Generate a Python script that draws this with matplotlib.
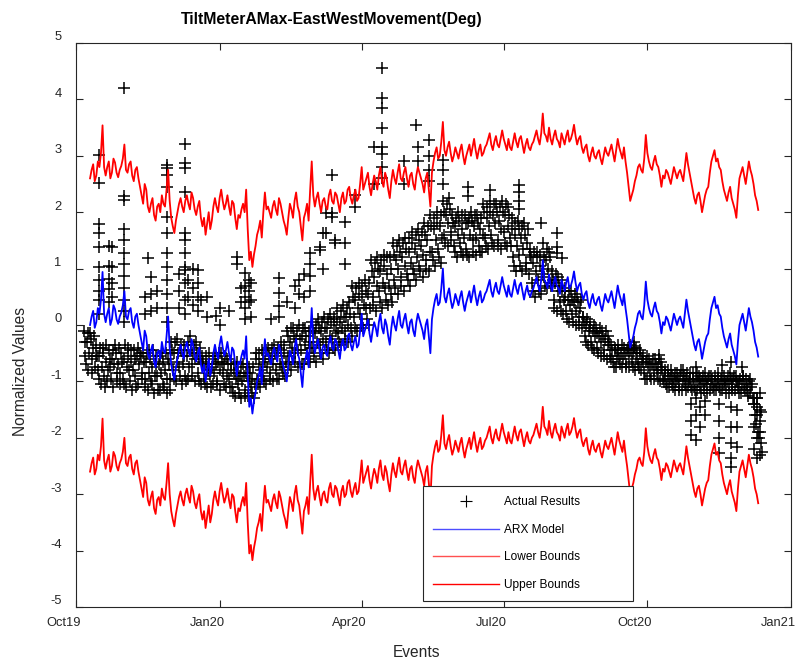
import numpy as np
import pandas as pd
import matplotlib
matplotlib.use('Agg')
import matplotlib.pyplot as plt
import matplotlib.transforms as mtransforms
from matplotlib.lines import Line2D

plt.rcParams['font.family'] = ['Liberation Sans', 'DejaVu Sans']

# --- data (days counted from 2019-10-01) ---
start_date = pd.Timestamp('2019-10-01')

# ARX model, one value per day starting at day 9
arx_first_day = 9
arx = [
    0.0, 0.15, 0.25, -0.05, 0.05, 0.3, 0.2, 0.45,
    0.94, 0.2,
    0.05, 0.2, 0.3, 0.0, 0.1, 0.35, 0.28, 0.1, 0.02, 0.15, 0.22, 0.35,
    0.6, 0.15,
    0.1, 0.25, 0.3, 0.05, -0.05, 0.15, 0.2, 0.0,
    -0.15, -0.3, -0.45, -0.1, -0.2, -0.5,
    -0.6, -0.45, -0.35, -0.65, -0.75, -0.5, -0.45, -0.6,
    -0.3, -0.45, -0.5, -0.2, 0.15, -0.4,
    -0.7, -0.85, -0.97, -0.75, -0.6, -0.45,
    -0.35, -0.5, -0.6, -0.4, -0.3, -0.45, -0.55, -0.25, -0.35, -0.55, -0.65, -0.5, -0.4, -0.7,
    -0.85, -0.7, -1.0, -0.8, -0.6, -0.9, -0.75, -0.5,
    -0.35, -0.5, -0.6, -0.35, -0.2, -0.4, -0.55, -0.45, -0.3, -0.5, -0.65, -0.4, -0.45, -0.7,
    -0.9, -0.65, -0.7, -0.55, -0.45, -0.6,
    -0.2, -0.9,
    -1.45, -1.3, -1.57, -1.35, -1.2, -1.0,
    -0.9, -0.75, -1.05, -0.6, -0.25, -0.55,
    -0.5, -0.6, -0.7, -0.5, -0.4, -0.55, -0.65, -0.35, -0.45, -0.6, -0.75, -0.85,
    -1.0, -0.7,
    -0.45, -0.55, -0.7, -0.4, -0.25, -0.5, -0.6, -0.85,
    -1.1, -0.7,
    -0.6, -0.45, -0.75, -0.2,
    0.3, -0.3,
    -0.5, -0.35, -0.25, -0.45, -0.6, -0.4, -0.35, -0.5, -0.55, -0.3, -0.2, -0.4, -0.45, -0.25, -0.3,
    -0.45, -0.6, -0.35, -0.25, -0.45, -0.4, -0.2, -0.15, -0.35, -0.45, -0.3, -0.2, -0.4, -0.35, -0.1,
    0.2, -0.2,
    -0.1, 0.0, 0.1, -0.15, -0.3, -0.1, 0.05, -0.05, -0.2, 0.05, 0.2, -0.05,
    -0.15, 0.1, 0.0, -0.2, -0.35, -0.05, 0.15, 0.0, -0.1, 0.1, 0.25, 0.0,
    -0.05, 0.1, 0.2, 0.0, -0.15, 0.05, 0.1, -0.1, -0.2, 0.05, 0.2, 0.1, 0.0, -0.1, -0.25, 0.0, 0.1, -0.2,
    -0.5, 0.1,
    0.3, 0.45, 0.55, 0.35, 0.4, 0.65,
    1.0, 0.5,
    0.4, 0.55, 0.65, 0.45, 0.3, 0.4, 0.55, 0.45, 0.35, 0.5, 0.6, 0.4, 0.25,
    0.4, 0.5, 0.6, 0.4, 0.55, 0.7, 0.5, 0.35, 0.5, 0.6, 0.4, 0.45, 0.55,
    0.6, 0.7, 0.8, 0.6, 0.5, 0.65, 0.75, 0.6, 0.55, 0.7, 0.85, 0.7, 0.6, 0.5, 0.7, 0.55,
    0.5, 0.65, 0.8, 0.65, 0.55, 0.7, 0.75, 0.6, 0.45, 0.6, 0.7, 0.55, 0.5, 0.6, 0.65, 0.75,
    0.85, 0.7, 0.6, 0.8, 1.15, 0.8,
    0.75, 0.65, 0.9, 0.7, 0.6, 0.75, 0.85, 0.7, 0.65, 0.55, 0.8, 0.7,
    0.6, 0.75, 0.85, 0.65, 0.7, 0.8, 0.95, 0.75, 0.6, 0.7, 0.75, 0.55,
    0.45, 0.55, 0.6, 0.4, 0.3, 0.45, 0.55, 0.4, 0.35, 0.45, 0.5, 0.35, 0.25, 0.4,
    0.55, 0.45, 0.4, 0.5, 0.6, 0.45, 0.3, 0.5, 0.7, 0.55, 0.45, 0.35, 0.55, 0.3,
    0.1, -0.15, -0.4, -0.3, -0.2, -0.05, 0.05, 0.2,
    0.25, 0.15, 0.1, 0.35, 0.77, 0.45, 0.3, 0.2, 0.15, 0.3, 0.4, 0.25, 0.2, 0.05,
    -0.15, 0.05, 0.0, 0.15,
    0.1, 0.0, -0.1, 0.05, 0.2, 0.1, 0.0, 0.1, 0.15, 0.05, -0.05, 0.2, 0.45, 0.25, 0.1, -0.05,
    -0.2, -0.35, -0.45, -0.3, -0.25, -0.4, -0.6, -0.45, -0.3, -0.2, -0.15, 0.1,
    0.3, 0.4, 0.5, 0.3, 0.35, 0.2, 0.15, -0.05,
    -0.2, -0.3, -0.4, -0.25, -0.15, -0.35, -0.45, -0.55, -0.7, -0.3,
    0.0, 0.1, 0.2, 0.05, -0.1, 0.1, 0.3, 0.15, 0.05, -0.1,
    -0.3, -0.4, -0.56,
]
band_half_width = 2.6  # distance of the red bounds from the ARX line

# actual results, main cloud: readings at whole days starting at day 5
actual_first_day = 5
actual = [
    -0.1, -0.55, -0.3, -0.8, -0.15, -0.6, -0.4, -0.75,
    -0.35, -0.8, -0.55, -1.05, -0.4, -0.9, -0.65, -1.0, -0.45, -0.75, -0.6, -1.1, -0.35, -0.85, -0.7, -1.05,
    -0.5, -0.95, -0.6, -1.1, -0.4, -0.8, -0.65, -1.15, -0.45, -0.9, -0.55, -1.05, -0.5, -0.85,
    -0.5, -0.95, -0.65, -1.15, -0.45, -1.0, -0.75, -1.2, -0.55, -0.9, -0.7, -1.15, -0.5, -1.05, -0.8, -1.2, -0.6, -0.95,
    -0.3, -0.8, -0.5, -1.0, -0.25, -0.75, -0.45, -1.05, -0.35, -0.9, -0.55, -0.95, -0.2, -0.7, -0.5, -1.0, -0.3, -0.85, -0.6, -1.05,
    -0.55, -0.95, -0.7, -1.1, -0.5, -0.9, -0.75, -1.05, -0.55, -1.0, -0.65, -1.15, -0.5, -0.85, -0.7, -1.1, -0.6, -0.95,
    -0.7, -1.1, -0.85, -1.25, -0.65, -1.05, -0.9, -1.3, -0.7, -1.15, -0.85, -1.25, -0.75, -1.1, -0.95, -1.3,
    -0.5, -0.95, -0.7, -1.1, -0.45, -0.9, -0.65, -1.05, -0.4, -0.85, -0.6, -1.0, -0.35, -0.8, -0.55, -0.95, -0.3, -0.75, -0.5, -0.9,
    -0.1, -0.55, -0.3, -0.8, -0.05, -0.5, -0.25, -0.75, 0.0, -0.45, -0.2, -0.7, -0.05, -0.5, -0.3, -0.65,
    0.05, -0.4, -0.15, -0.65, 0.1, -0.35, -0.1, -0.6, 0.15, -0.3, -0.05, -0.5, 0.2, -0.25, 0.0, -0.45,
    0.3, -0.15, 0.05, -0.35, 0.35, -0.1, 0.15, -0.3, 0.4, -0.05,
    0.7, 0.15, 0.45, -0.1, 0.75, 0.2, 0.5, -0.05, 0.8, 0.3, 0.55, 0.0,
    1.15, 0.5, 0.85, 0.25, 1.2, 0.6, 0.95, 0.3, 1.25, 0.65, 0.9, 0.35, 1.2, 0.55,
    1.45, 0.8, 1.15, 0.55, 1.5, 0.85, 1.2, 0.6, 1.55, 0.9, 1.3, 0.7, 1.65, 1.0, 1.35, 0.8, 1.7, 1.05, 1.4, 0.85, 1.8, 1.15, 1.5, 0.95,
    1.95, 1.3, 1.7, 1.05, 2.0, 1.35, 1.75, 1.1,
    2.2, 1.6, 1.95, 1.4, 2.25, 1.65,
    1.95, 1.4, 1.75, 1.2, 2.0, 1.45, 1.7, 1.25, 1.95, 1.35, 1.8, 1.2, 2.0, 1.5, 1.75, 1.25, 1.95, 1.4, 1.7, 1.3,
    2.15, 1.55, 1.9, 1.35, 2.2, 1.6, 1.95, 1.4, 2.15, 1.5, 1.85, 1.35, 2.2, 1.65, 1.95, 1.4, 2.1, 1.55,
    1.9, 1.2, 1.6, 0.95, 1.85, 1.25, 1.55, 0.95, 1.8, 1.1, 1.45, 0.9,
    1.35, 0.75, 1.1, 0.5, 1.3, 0.8, 1.05, 0.55,
    1.45, 0.85, 1.15, 0.65, 1.3, 0.7,
    0.95, 0.45, 0.75, 0.25, 0.85, 0.4, 0.6, 0.2,
    0.65, 0.25, 0.45, 0.05, 0.6, 0.2, 0.4, 0.0, 0.5, 0.15, 0.3, -0.05,
    0.15, -0.2, 0.0, -0.35, 0.05, -0.3, -0.1, -0.45, -0.05, -0.4, -0.2, -0.55, -0.1, -0.45, -0.25, -0.6, -0.2, -0.55,
    -0.35, -0.65, -0.45, -0.75, -0.35, -0.6, -0.5, -0.75, -0.4, -0.7, -0.45, -0.75, -0.35, -0.65, -0.5, -0.8, -0.4, -0.7, -0.5, -0.8,
    -0.55, -0.85, -0.65, -0.95, -0.6, -0.9, -0.7, -0.95, -0.6, -0.85, -0.75, -1.0, -0.65, -0.95,
    -0.8, -1.05, -0.9, -1.1, -0.8, -1.05, -0.95, -1.15, -0.85, -1.1, -0.9, -1.15, -0.8, -1.05, -0.95, -1.1, -0.85, -1.1,
    -0.85, -1.1, -0.95, -1.15, -0.9, -1.1, -1.0, -1.15, -0.85, -1.05, -0.95, -1.15, -0.9, -1.1, -1.0, -1.15,
    -0.85, -1.1, -0.95, -1.15, -0.9, -1.05, -1.0, -1.2, -0.85, -1.1, -0.95, -1.15, -0.9, -1.1, -1.0, -1.2, -0.9, -1.1,
    -0.95, -1.15, -1.0, -1.2, -1.05,
    -1.3, -1.6, -1.45, -1.9, -1.7, -2.1,
]

# actual results, main cloud: readings at half days starting at day 5.5
actual_half = [
    -0.3, -0.7, -0.15, -0.5, -0.25, -0.85, -0.2, -0.55,
    -0.55, -0.95, -0.4, -0.75, -0.5, -1.1, -0.35, -0.8, -0.6, -0.95, -0.45, -0.7, -0.5, -1.0, -0.4, -0.85,
    -0.65, -1.05, -0.35, -0.75, -0.55, -1.0, -0.45, -0.8, -0.6, -1.1, -0.4, -0.7, -0.55, -0.95,
    -0.65, -1.1, -0.5, -0.85, -0.6, -1.05, -0.45, -0.9, -0.7, -1.15, -0.55, -0.85, -0.65, -1.1, -0.5, -0.95, -0.7, -1.15,
    -0.45, -0.95, -0.3, -0.65, -0.5, -0.9, -0.35, -0.7, -0.55, -1.0, -0.3, -0.75, -0.45, -0.9, -0.35, -0.6, -0.5, -1.0, -0.4, -0.7,
    -0.65, -1.05, -0.55, -0.8, -0.7, -1.1, -0.6, -0.85, -0.7, -1.05, -0.5, -0.8, -0.65, -1.05, -0.55, -0.9, -0.7, -1.1,
    -0.8, -1.2, -0.7, -0.95, -0.85, -1.2, -0.75, -1.0, -0.9, -1.25, -0.7, -1.0, -0.85, -1.2, -0.75, -1.05,
    -0.6, -1.05, -0.5, -0.8, -0.6, -1.0, -0.45, -0.75, -0.55, -0.95, -0.4, -0.7, -0.5, -0.95, -0.4, -0.7, -0.45, -0.85, -0.35, -0.65,
    -0.2, -0.7, -0.05, -0.4, -0.2, -0.65, -0.1, -0.45, -0.25, -0.7, -0.05, -0.35, -0.2, -0.6, -0.1, -0.4,
    -0.1, -0.55, 0.0, -0.3, -0.05, -0.5, 0.05, -0.25, -0.05, -0.45, 0.1, -0.2, 0.05, -0.4, 0.15, -0.1,
    0.1, -0.3, 0.25, -0.05, 0.15, -0.25, 0.3, 0.0, 0.2, -0.2,
    0.5, -0.05, 0.65, 0.3, 0.55, 0.0, 0.7, 0.35, 0.6, 0.1, 0.75, 0.3,
    0.95, 0.35, 1.1, 0.7, 1.0, 0.4, 1.15, 0.75, 1.05, 0.45, 1.2, 0.7, 1.0, 0.4,
    1.25, 0.65, 1.4, 1.0, 1.3, 0.7, 1.45, 1.05, 1.35, 0.8, 1.55, 1.1, 1.45, 0.9, 1.6, 1.2, 1.5, 0.95, 1.65, 1.25, 1.6, 1.0, 1.75, 1.3,
    1.75, 1.15, 1.9, 1.5, 1.8, 1.2, 1.95, 1.55,
    2.0, 1.45, 2.15, 1.8, 2.05, 1.5,
    1.8, 1.3, 1.9, 1.6, 1.85, 1.3, 1.95, 1.55, 1.8, 1.25, 1.9, 1.6, 1.85, 1.3, 1.95, 1.55, 1.8, 1.3, 1.9, 1.6,
    2.0, 1.4, 2.1, 1.75, 2.0, 1.45, 2.15, 1.8, 2.0, 1.4, 2.1, 1.7, 2.0, 1.45, 2.15, 1.75, 1.95, 1.4,
    1.7, 1.05, 1.8, 1.4, 1.7, 1.05, 1.75, 1.35, 1.6, 1.0, 1.7, 1.25,
    1.2, 0.6, 1.3, 0.95, 1.2, 0.6, 1.25, 0.9,
    1.2, 0.7, 1.35, 1.0, 1.2, 0.75,
    0.8, 0.3, 0.9, 0.6, 0.7, 0.25, 0.8, 0.45,
    0.5, 0.1, 0.6, 0.35, 0.45, 0.05, 0.55, 0.25, 0.4, 0.0, 0.45, 0.15,
    0.05, -0.3, 0.1, -0.1, -0.05, -0.4, 0.0, -0.2, -0.15, -0.5, -0.05, -0.3, -0.2, -0.55, -0.1, -0.35, -0.3, -0.6,
    -0.45, -0.75, -0.4, -0.55, -0.45, -0.7, -0.35, -0.6, -0.5, -0.75, -0.4, -0.55, -0.45, -0.75, -0.4, -0.6, -0.5, -0.75, -0.45, -0.6,
    -0.65, -0.95, -0.55, -0.75, -0.7, -0.95, -0.6, -0.8, -0.7, -0.95, -0.6, -0.8, -0.75, -1.0,
    -0.85, -1.1, -0.8, -0.95, -0.9, -1.1, -0.85, -1.0, -0.95, -1.15, -0.8, -1.0, -0.9, -1.15, -0.85, -1.0, -0.95, -1.15,
    -0.95, -1.15, -0.85, -1.0, -0.95, -1.2, -0.9, -1.05, -1.0, -1.2, -0.9, -1.05, -0.95, -1.15, -0.9, -1.05,
    -0.95, -1.15, -0.9, -1.05, -1.0, -1.2, -0.9, -1.05, -0.95, -1.15, -0.9, -1.0, -1.0, -1.2, -0.95, -1.05, -0.9, -1.15,
    -1.05, -1.25, -0.95, -1.1, -1.3,
    -1.4, -1.75, -1.3, -2.0, -1.55, -2.25,
]

# stray actual results (vertical columns of crosses): (day, values)
spike_columns = [
    (15, [3.01, 2.52, 1.79, 1.63, 1.38, 1.03, 0.8, 0.6, 0.44, 0.2]),
    (21, [1.4, 1.05, 0.81, 0.63, 0.4]),
    (23, [1.39, 1.03, 0.74, 0.5]),
    (31, [4.21, 2.28, 2.22, 1.71, 1.5, 1.27, 1.09, 0.86, 0.65, 0.45, 0.25, 0.05]),
    (44, [0.5, 0.2]),
    (46, [1.18]),
    (48, [0.85, 0.55, 0.25]),
    (52, [0.6, 0.3]),
    (58, [2.84, 2.78, 2.66, 2.45, 1.92, 1.63, 1.27, 1.03, 0.8, 0.55, 0.3, 0.05]),
    (66, [0.9, 0.6, 0.3]),
    (70, [3.21, 2.88, 2.78, 2.35, 1.63, 1.5, 1.27, 1.03, 0.97, 0.75, 0.45, 0.2]),
    (72, [0.8, 0.5]),
    (75, [1.0, 0.65, 0.35]),
    (78, [0.97, 0.75, 0.5, 0.25]),
    (80, [0.45]),
    (84, [0.5, 0.15]),
    (89.5, [0.16]),
    (92, [0.3, 0.0]),
    (98, [0.25]),
    (103, [1.21, 1.09]),
    (106, [0.65, 0.4]),
    (108, [0.92, 0.7, 0.5, 0.3, 0.1]),
    (110.6, [0.8, 0.6, 0.4]),
    (112, [0.75, 0.45, 0.15]),
    (125, [0.1]),
    (130, [0.84, 0.56, 0.33, 0.15]),
    (135, [0.4]),
    (140, [0.7, 0.3]),
    (143, [0.8, 0.55]),
    (146, [0.9, 0.5]),
    (150, [1.27, 1.09, 0.86, 0.6]),
    (156, [1.39, 1.33]),
    (158, [1.64, 1.0]),
    (160, [1.98, 1.63]),
    (164, [2.66, 1.98, 1.92]),
    (166, [1.5, 1.45]),
    (172, [1.83, 1.45, 1.09]),
    (178.5, [2.3, 2.1]),
    (191, [3.16, 2.5]),
    (196, [4.55, 4.02, 3.84, 3.5, 3.16, 3.04, 2.8, 2.6]),
    (210, [2.9, 2.5]),
    (217.5, [3.55]),
    (219, [3.16, 2.9]),
    (226, [3.28, 3.0, 2.75, 2.55]),
    (235, [2.93, 2.75, 2.5]),
    (251, [2.45, 2.28]),
    (265, [2.4]),
    (284, [2.48, 2.35, 2.2, 2.05]),
    (298, [1.8]),
    (308, [1.63, 1.39, 1.27]),
    (311.5, [1.18]),
    (357.5, [-0.3, -0.38]),
    (373.5, [-0.53]),
    (394, [-1.4, -1.7, -1.95]),
    (397, [-0.74, -1.3, -1.6, -2.04]),
    (400, [-1.45, -1.8]),
    (403, [-1.35, -1.6]),
    (412, [-1.4, -1.7, -2.0, -2.27]),
    (414, [-0.71]),
    (419.5, [-0.65, -1.45, -1.8, -2.1, -2.35, -2.51]),
    (423.5, [-1.5, -1.8, -2.16]),
    (426.6, [-0.74]),
    (434, [-1.4, -1.8, -2.2]),
    (436, [-1.3, -1.6, -2.0, -2.36]),
    (438, [-1.2, -1.5, -1.9, -2.3]),
]

tick_dates = ['2019-10-01', '2020-01-01', '2020-04-01', '2020-07-01', '2020-10-01', '2021-01-01']
tick_labels = ['Oct19', 'Jan20', 'Apr20', 'Jul20', 'Oct20', 'Jan21']
y_ticks = list(range(-5, 6))
legend_labels = ['Actual Results', 'ARX Model', 'Lower Bounds', 'Upper Bounds']


def to_dates(days):
    return start_date + pd.to_timedelta(np.asarray(days, dtype=float), unit='D')


arx = np.array(arx)
arx_days = arx_first_day + np.arange(len(arx))
lower = arx - band_half_width
upper = arx + band_half_width
actual_days = actual_first_day + np.arange(len(actual))
actual_half_days = actual_first_day + 0.5 + np.arange(len(actual_half))
spike_days = [d for d, vals in spike_columns for _ in vals]
spike_vals = [v for _, vals in spike_columns for v in vals]

dark = '#262626'
fig = plt.figure(figsize=(7.97, 6.66), dpi=100)
ax = fig.add_axes([76 / 797, 59 / 666, 715 / 797, 564 / 666])

cross = dict(ls='none', marker='+', color='k', ms=9, mew=1.1, zorder=2)
ax.plot(to_dates(actual_days), actual, **cross)
ax.plot(to_dates(actual_half_days), actual_half, **cross)
ax.plot(to_dates(spike_days), spike_vals, **cross)
ax.plot(to_dates(arx_days), arx, color='#0000ff', lw=1.3, zorder=3)
ax.plot(to_dates(arx_days), lower, color='#ff0000', lw=1.3, zorder=4)
ax.plot(to_dates(arx_days), upper, color='#ff0000', lw=1.3, zorder=4)

ax.set_xlim(pd.Timestamp(tick_dates[0]), pd.Timestamp(tick_dates[-1]))
ax.set_ylim(-5, 5)
ax.set_xticks(pd.to_datetime(tick_dates))
ax.set_xticklabels(tick_labels)
ax.set_yticks(y_ticks)
ax.set_yticklabels([str(v) for v in y_ticks])

ax.tick_params(direction='in', top=True, right=True, length=5, width=0.8,
               colors=dark, labelsize=9.3)
ax.tick_params(axis='x', pad=7.5)
ax.tick_params(axis='y', pad=10.4)
for s in ax.spines.values():
    s.set_color(dark)
    s.set_linewidth(0.8)

# MATLAB-style tick label placement (shifted left / up from the ticks)
x_shift = mtransforms.ScaledTranslation(-0.125, 0, fig.dpi_scale_trans)
for lbl in ax.get_xticklabels():
    lbl.set_transform(lbl.get_transform() + x_shift)
y_shift = mtransforms.ScaledTranslation(0, 0.07, fig.dpi_scale_trans)
for lbl in ax.get_yticklabels():
    lbl.set_transform(lbl.get_transform() + y_shift)

ax.set_title('TiltMeterAMax-EastWestMovement(Deg)', fontsize=11.3, fontweight='bold',
             x=(332 - 76) / 715, pad=14)
ax.set_xlabel('Events', fontsize=11.2, color=dark)
ax.xaxis.set_label_coords(0.476, -0.0674)
ax.set_ylabel('Normalized Values', fontsize=11.2, color=dark)
ax.yaxis.set_label_coords(-0.067, 0.4175)

handles = [
    Line2D([], [], ls='none', marker='+', color='k', ms=9, mew=0.8),
    Line2D([], [], color='#4d4dff', lw=1.0),
    Line2D([], [], color='#ff5050', lw=1.0),
    Line2D([], [], color='#ff0000', lw=1.0),
]
leg = ax.legend(handles, legend_labels, loc='lower left',
                bbox_to_anchor=((423 - 76) / 715, 6 / 564, 210 / 715, 116 / 564),
                mode='expand', borderaxespad=0, fontsize=8.6, handlelength=5.5,
                handletextpad=0.4, labelspacing=1.3, borderpad=0.85,
                fancybox=False, edgecolor=dark, framealpha=1)
leg.get_frame().set_linewidth(0.8)

fig.savefig('out.png', dpi=100)
